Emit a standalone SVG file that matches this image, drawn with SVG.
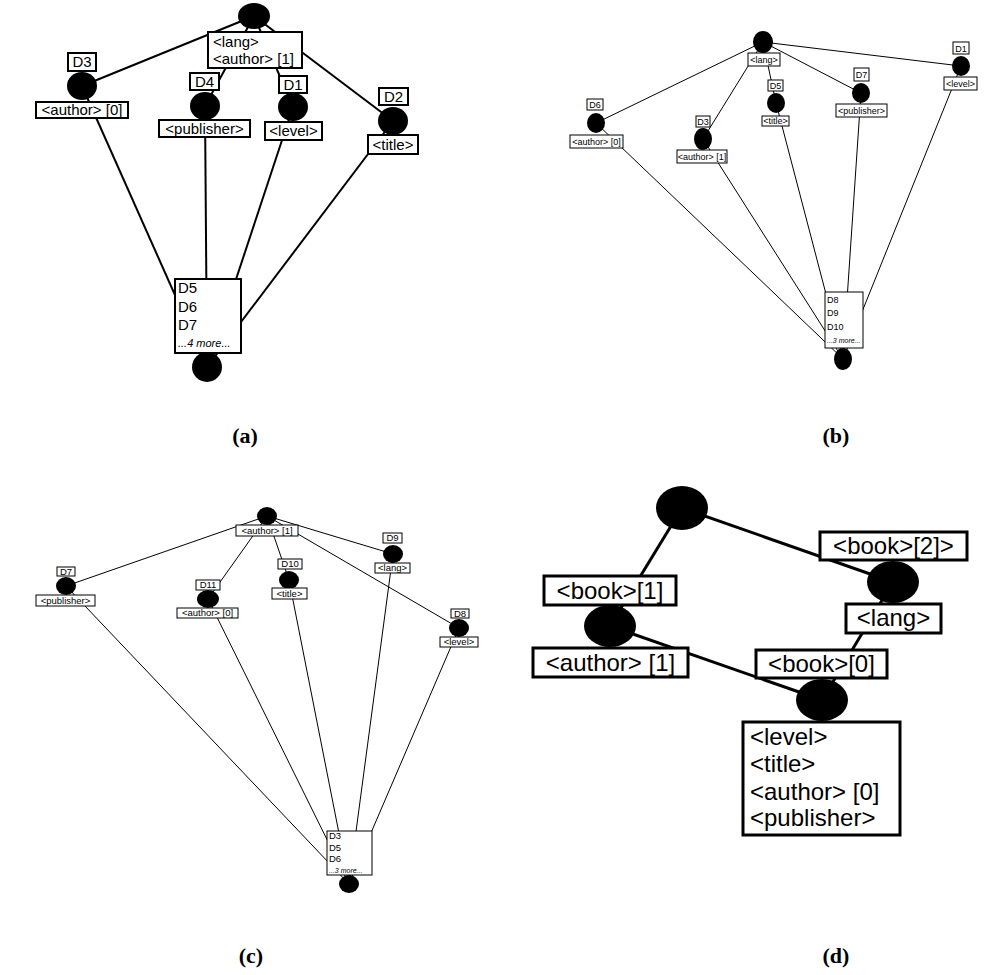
<svg xmlns="http://www.w3.org/2000/svg" width="996" height="975" viewBox="0 0 996 975">
<style>
text{font-family:"Liberation Sans",Arial,sans-serif;fill:#000}
.dot{fill:#000}
.bx{fill:#fff;stroke:#000}
.a .bx{stroke-width:2}
.b .bx,.c .bx{stroke-width:1}
.d .bx{stroke-width:3}
.la{stroke:#000;stroke-width:2;fill:none}
.lb{stroke:#000;stroke-width:1;fill:none}
.ld{stroke:#000;stroke-width:3;fill:none}
.ta{font-size:15px}
.tb{font-size:9px}
.tc{font-size:9.5px}
.td{font-size:24px}
.m{text-anchor:middle}
.cap{font-family:"Liberation Serif","Times New Roman",serif;font-weight:bold;font-size:22px;text-anchor:middle}
</style>
<rect width="996" height="975" fill="#fff"/>

<!-- Connectors -->
<g id="connectors">
  <g class="la">
    <line x1="254" y1="16" x2="82" y2="86"/>
    <line x1="254" y1="16" x2="205" y2="106"/>
    <line x1="254" y1="16" x2="293" y2="107"/>
    <line x1="254" y1="16" x2="393" y2="121"/>
    <line x1="82" y1="86" x2="207" y2="367"/>
    <line x1="205" y1="106" x2="207" y2="367"/>
    <line x1="293" y1="107" x2="207" y2="367"/>
    <line x1="393" y1="121" x2="207" y2="367"/>
  </g>
  <g class="lb">
    <line x1="763" y1="42" x2="596" y2="123"/>
    <line x1="763" y1="42" x2="703" y2="139"/>
    <line x1="763" y1="42" x2="776" y2="103"/>
    <line x1="763" y1="42" x2="861" y2="93"/>
    <line x1="763" y1="42" x2="961" y2="66"/>
    <line x1="596" y1="123" x2="843" y2="359"/>
    <line x1="703" y1="139" x2="843" y2="359"/>
    <line x1="776" y1="103" x2="843" y2="359"/>
    <line x1="861" y1="93" x2="843" y2="359"/>
    <line x1="961" y1="66" x2="843" y2="359"/>
  </g>
  <g class="lb">
    <line x1="267" y1="516" x2="66" y2="586"/>
    <line x1="267" y1="516" x2="208" y2="599"/>
    <line x1="267" y1="516" x2="289" y2="580"/>
    <line x1="267" y1="516" x2="393" y2="554"/>
    <line x1="267" y1="516" x2="459" y2="628"/>
    <line x1="66" y1="586" x2="349" y2="884"/>
    <line x1="208" y1="599" x2="349" y2="884"/>
    <line x1="289" y1="580" x2="349" y2="884"/>
    <line x1="393" y1="554" x2="349" y2="884"/>
    <line x1="459" y1="628" x2="349" y2="884"/>
  </g>
  <g class="ld">
    <line x1="682" y1="508" x2="610" y2="626"/>
    <line x1="682" y1="508" x2="893" y2="582"/>
    <line x1="893" y1="582" x2="822" y2="700"/>
    <line x1="610" y1="626" x2="822" y2="700"/>
  </g>
</g>

<!-- Panel (a) -->
<g class="a">
  <g id="a-root">
    <ellipse class="dot" cx="254" cy="16" rx="16" ry="13"/>
    <rect class="bx" x="208" y="32" width="94" height="36"/>
    <text class="ta" x="213" y="47">&lt;lang&gt;</text>
    <text class="ta" x="213" y="64">&lt;author&gt; [1]</text>
  </g>
  <g id="a-D3">
    <rect class="bx" x="68" y="53" width="28" height="18"/>
    <text class="ta m" x="82" y="67">D3</text>
    <ellipse class="dot" cx="82" cy="86" rx="15" ry="14"/>
    <rect class="bx" x="36" y="102" width="92" height="16"/>
    <text class="ta m" x="82" y="115">&lt;author&gt; [0]</text>
  </g>
  <g id="a-D4">
    <rect class="bx" x="190" y="73" width="29" height="17"/>
    <text class="ta m" x="204.5" y="87">D4</text>
    <ellipse class="dot" cx="205" cy="106" rx="15" ry="14"/>
    <rect class="bx" x="159" y="120" width="91" height="17"/>
    <text class="ta m" x="204.5" y="134">&lt;publisher&gt;</text>
  </g>
  <g id="a-D1">
    <rect class="bx" x="279" y="76" width="28" height="17"/>
    <text class="ta m" x="293" y="90">D1</text>
    <ellipse class="dot" cx="293" cy="107" rx="15" ry="14"/>
    <rect class="bx" x="265" y="122" width="57" height="18"/>
    <text class="ta m" x="293.5" y="136">&lt;level&gt;</text>
  </g>
  <g id="a-D2">
    <rect class="bx" x="379" y="88" width="29" height="17"/>
    <text class="ta m" x="393.5" y="102">D2</text>
    <ellipse class="dot" cx="393" cy="121" rx="15" ry="14"/>
    <rect class="bx" x="368" y="135" width="50" height="19"/>
    <text class="ta m" x="393" y="150">&lt;title&gt;</text>
  </g>
  <g id="a-leaf">
    <ellipse class="dot" cx="207" cy="367" rx="15" ry="15"/>
    <rect class="bx" x="175" y="279" width="66" height="74"/>
    <text class="ta" x="178" y="293">D5</text>
    <text class="ta" x="178" y="312">D6</text>
    <text class="ta" x="178" y="330">D7</text>
    <text x="178" y="347" font-size="11" font-style="italic">...4 more...</text>
  </g>
</g>

<!-- Panel (b) -->
<g class="b">
  <g id="b-root">
    <ellipse class="dot" cx="763" cy="42" rx="10" ry="11"/>
    <rect class="bx" x="748" y="53" width="32" height="13"/>
    <text class="tb m" x="764" y="63">&lt;lang&gt;</text>
  </g>
  <g id="b-D6">
    <rect class="bx" x="587" y="99" width="16" height="11"/>
    <text class="tb m" x="595" y="108">D6</text>
    <ellipse class="dot" cx="596" cy="123" rx="9" ry="10"/>
    <rect class="bx" x="570" y="135" width="53" height="13"/>
    <text class="tb m" x="596.5" y="145">&lt;author&gt; [0]</text>
  </g>
  <g id="b-D3">
    <rect class="bx" x="696" y="116" width="14" height="11"/>
    <text class="tb m" x="703" y="125">D3</text>
    <ellipse class="dot" cx="703" cy="139" rx="9" ry="11"/>
    <rect class="bx" x="677" y="150" width="50" height="13" stroke-width="1.5"/>
    <text class="tb m" x="702" y="160">&lt;author&gt; [1]</text>
  </g>
  <g id="b-D5">
    <rect class="bx" x="768" y="80" width="15" height="11"/>
    <text class="tb m" x="775.5" y="89">D5</text>
    <ellipse class="dot" cx="776" cy="103" rx="9" ry="10"/>
    <rect class="bx" x="762" y="116" width="27" height="10"/>
    <text class="tb m" x="775.5" y="124">&lt;title&gt;</text>
  </g>
  <g id="b-D7">
    <rect class="bx" x="854" y="68" width="15" height="13"/>
    <text class="tb m" x="861.5" y="78">D7</text>
    <ellipse class="dot" cx="861" cy="93" rx="9" ry="10"/>
    <rect class="bx" x="836" y="104" width="51" height="13"/>
    <text class="tb m" x="861.5" y="114">&lt;publisher&gt;</text>
  </g>
  <g id="b-D1">
    <rect class="bx" x="953" y="42" width="16" height="12"/>
    <text class="tb m" x="961" y="52">D1</text>
    <ellipse class="dot" cx="961" cy="66" rx="9" ry="10"/>
    <rect class="bx" x="944" y="77" width="33" height="13"/>
    <text class="tb m" x="960.5" y="87">&lt;level&gt;</text>
  </g>
  <g id="b-leaf">
    <ellipse class="dot" cx="843" cy="359" rx="9" ry="11"/>
    <rect class="bx" x="825" y="292" width="38" height="56"/>
    <text class="tb" x="827" y="303">D8</text>
    <text class="tb" x="827" y="316">D9</text>
    <text class="tb" x="827" y="330">D10</text>
    <text x="827" y="343" font-size="7" font-style="italic">...3 more...</text>
  </g>
</g>

<!-- Panel (c) -->
<g class="c">
  <g id="c-root">
    <ellipse class="dot" cx="267" cy="516" rx="10" ry="9"/>
    <rect class="bx" x="236" y="525" width="62" height="11" stroke-width="1.6"/>
    <text class="tc m" x="267" y="534">&lt;author&gt; [1]</text>
  </g>
  <g id="c-D7">
    <rect class="bx" x="57" y="567" width="18" height="9"/>
    <text class="tc m" x="66" y="575">D7</text>
    <ellipse class="dot" cx="66" cy="586" rx="10" ry="9"/>
    <rect class="bx" x="36" y="595" width="59" height="11"/>
    <text class="tc m" x="65.5" y="604">&lt;publisher&gt;</text>
  </g>
  <g id="c-D11">
    <rect class="bx" x="196" y="580" width="24" height="10"/>
    <text class="tc m" x="208" y="588">D11</text>
    <ellipse class="dot" cx="208" cy="599" rx="11" ry="9"/>
    <rect class="bx" x="177" y="608" width="61" height="10"/>
    <text class="tc m" x="207.5" y="616">&lt;author&gt; [0]</text>
  </g>
  <g id="c-D10">
    <rect class="bx" x="278" y="559" width="24" height="10"/>
    <text class="tc m" x="290" y="567">D10</text>
    <ellipse class="dot" cx="289" cy="580" rx="10" ry="9"/>
    <rect class="bx" x="272" y="588" width="35" height="11"/>
    <text class="tc m" x="289.5" y="597">&lt;title&gt;</text>
  </g>
  <g id="c-D9">
    <rect class="bx" x="383" y="533" width="19" height="10"/>
    <text class="tc m" x="392.5" y="541">D9</text>
    <ellipse class="dot" cx="393" cy="554" rx="10" ry="9"/>
    <rect class="bx" x="375" y="563" width="35" height="10"/>
    <text class="tc m" x="392.5" y="571">&lt;lang&gt;</text>
  </g>
  <g id="c-D8">
    <rect class="bx" x="451" y="609" width="18" height="9"/>
    <text class="tc m" x="460" y="617">D8</text>
    <ellipse class="dot" cx="459" cy="628" rx="10" ry="9"/>
    <rect class="bx" x="440" y="637" width="38" height="10"/>
    <text class="tc m" x="459" y="645">&lt;level&gt;</text>
  </g>
  <g id="c-leaf">
    <ellipse class="dot" cx="349" cy="884" rx="10" ry="9"/>
    <rect class="bx" x="327" y="831" width="45" height="44"/>
    <text class="tc" x="329" y="839">D3</text>
    <text class="tc" x="329" y="851">D5</text>
    <text class="tc" x="329" y="862">D6</text>
    <text x="329" y="873" font-size="7" font-style="italic">...3 more...</text>
  </g>
</g>

<!-- Panel (d) -->
<g class="d">
  <g id="d-root">
    <ellipse class="dot" cx="682" cy="508" rx="26" ry="22"/>
  </g>
  <g id="d-book1">
    <rect class="bx" x="544" y="576" width="132" height="29"/>
    <text class="td m" x="610" y="599">&lt;book&gt;[1]</text>
    <ellipse class="dot" cx="610" cy="626" rx="26" ry="21"/>
    <rect class="bx" x="533" y="648" width="155" height="29"/>
    <text class="td m" x="610.5" y="671">&lt;author&gt; [1]</text>
  </g>
  <g id="d-book2">
    <rect class="bx" x="820" y="532" width="147" height="28"/>
    <text class="td m" x="893.5" y="554">&lt;book&gt;[2]&gt;</text>
    <ellipse class="dot" cx="893" cy="582" rx="26" ry="21"/>
    <rect class="bx" x="846" y="604" width="95" height="29"/>
    <text class="td m" x="893.5" y="626">&lt;lang&gt;</text>
  </g>
  <g id="d-book0">
    <rect class="bx" x="756" y="650" width="131" height="28"/>
    <text class="td m" x="821.5" y="672">&lt;book&gt;[0]</text>
    <ellipse class="dot" cx="822" cy="700" rx="26" ry="21"/>
    <rect class="bx" x="743" y="722" width="157" height="113"/>
    <text class="td" x="750" y="745">&lt;level&gt;</text>
    <text class="td" x="750" y="772">&lt;title&gt;</text>
    <text class="td" x="750" y="800">&lt;author&gt; [0]</text>
    <text class="td" x="750" y="826">&lt;publisher&gt;</text>
  </g>
</g>

<!-- Captions -->
<text class="cap" x="245" y="443">(a)</text>
<text class="cap" x="836" y="443">(b)</text>
<text class="cap" x="251" y="963">(c)</text>
<text class="cap" x="836" y="963">(d)</text>
</svg>
